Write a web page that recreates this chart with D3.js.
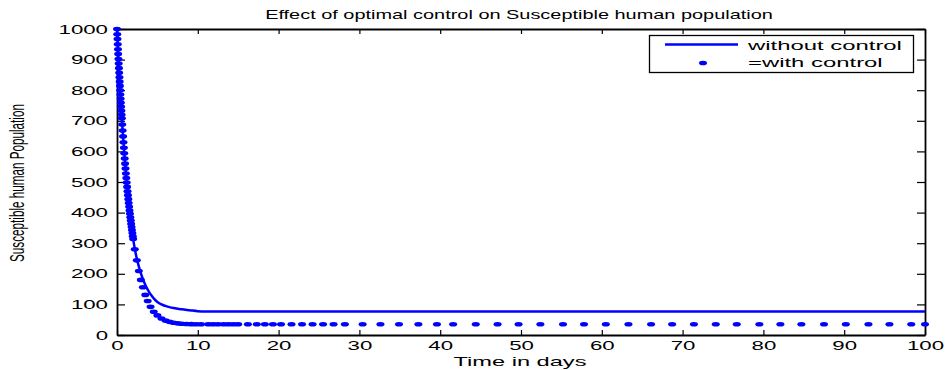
<!DOCTYPE html>
<html>
<head>
<meta charset="utf-8">
<script src="https://cdn.jsdelivr.net/npm/d3@7"></script>
<style>
  body { margin: 0; background: #fff; }
  svg { display: block; }
  text { font-family: "Liberation Sans", Arial, Helvetica, sans-serif; fill: #000; }
</style>
</head>
<body>
<svg id="chart" width="949" height="370"></svg>
<script>
// ---- data -------------------------------------------------------------
const chartTitle = "Effect of optimal control on Susceptible human population";
const xTitle = "Time in days";
const yTitle = "Susceptible human Population";
const seriesNames = ["without control", "=with control"];

const xTicks = [0, 10, 20, 30, 40, 50, 60, 70, 80, 90, 100];
const yTicks = [0, 100, 200, 300, 400, 500, 600, 700, 800, 900, 1000];

// susceptible humans, no control (solid line)
const timeWithout = [0, 0.1, 0.2, 0.3, 0.4, 0.5, 0.6, 0.7, 0.8, 0.9, 1.0, 1.1, 1.2, 1.3, 1.4, 1.5, 1.6, 1.7, 1.8, 1.9, 2.0,
  2.2, 2.4, 2.6, 2.8, 3.0, 3.2, 3.4, 3.6, 3.8, 4.0, 4.3, 4.6, 5.0, 5.5, 6.0, 6.5, 7.0, 8.0, 9.0, 10.0, 11, 20, 100];
const susceptibleWithout = [1000, 945, 892, 842, 795, 750, 708, 668, 630, 594, 560, 528, 498, 470, 444, 419, 396, 374, 353, 333, 314,
  282, 256, 234, 215, 198, 183, 170, 158, 148, 139, 128, 118, 108, 100, 95, 91, 88, 84, 81, 78, 77, 77, 77];

// susceptible humans, optimal control (solver steps, drawn as dots)
const timeWith = [0, 0.03, 0.06, 0.09, 0.12, 0.15, 0.18, 0.21, 0.24, 0.27, 0.30, 0.33, 0.36, 0.39, 0.42, 0.45, 0.48, 0.51, 0.54, 0.57, 0.60,
  0.65, 0.70, 0.75, 0.80, 0.85, 0.90, 0.95, 1.00, 1.05, 1.10, 1.15, 1.20, 1.25, 1.30, 1.35, 1.40, 1.45, 1.50, 1.55, 1.60, 1.65, 1.70, 1.75, 1.80, 1.85, 1.90, 1.95, 2.00,
  2.2, 2.45, 2.7, 2.95, 3.2, 3.5, 3.8, 4.15, 4.55, 5.0, 5.5, 6.0, 6.5, 7.0, 7.5, 8.0, 8.6, 9.2, 9.8, 10.4,
  11.3, 11.9, 12.5, 13.2, 13.8, 14.4, 15.0, 16.2, 17.3, 18.3, 19.3, 20.3, 21.6, 22.9, 24.2, 25.5, 26.8, 28.2, 30.4,
  32.6, 34.9, 37.3, 39.6, 41.6, 44.4, 47.1, 49.7, 52.4, 55.2, 57.8, 60.5, 63.3, 66.1, 68.7, 71.4, 74.1,
  76.7, 79.5, 82.1, 84.7, 87.5, 90.2, 93.0, 95.6, 98.3, 100];
const susceptibleWith = [1000, 983, 967, 950, 934, 918, 902, 887, 872, 857, 842, 828, 814, 800, 786, 772, 759, 746, 733, 720, 708,
  688, 668, 649, 630, 612, 594, 577, 560, 544, 528, 513, 498, 484, 470, 457, 444, 431, 419, 407, 396, 385, 374, 363, 353, 343, 333, 323, 314,
  280, 244, 209, 180, 156, 131, 111, 92, 76, 64, 54, 47, 43, 40, 38, 37, 36, 35.5, 35, 35,
  35, 35, 35, 35, 35, 35, 35, 35, 35, 35, 35, 35, 35, 35, 35, 35, 35, 35, 35,
  35, 35, 35, 35, 35, 35, 35, 35, 35, 35, 35, 35, 35, 35, 35, 35, 35,
  35, 35, 35, 35, 35, 35, 35, 35, 35, 35];

// ---- layout -----------------------------------------------------------
const plot = { left: 117, right: 925, top: 29, bottom: 335 };
const BLUE = "#0000ff";
const WIDE = 1.78;               // horizontal stretch of all lettering

const svg = d3.select("#chart");
const x = d3.scaleLinear().domain([0, 100]).range([plot.left, plot.right]);
const y = d3.scaleLinear().domain([0, 1000]).range([plot.bottom, plot.top]);

// widen a text element about its anchor point
function widen(sel, sx) {
  sel.each(function () {
    const t = d3.select(this);
    const tx = +t.attr("x") || 0, ty = +t.attr("y") || 0;
    t.attr("x", 0).attr("y", 0)
     .attr("transform", `translate(${tx},${ty}) scale(${sx},1)`);
  });
}
// widen so the text spans a given pixel width
function fitWidth(sel, width) {
  const len = sel.node().getComputedTextLength();
  widen(sel, width / len);
}

// ---- axes (MATLAB-style box with inward ticks) ----------------------------
const fmt = d3.format("d");
const gx = svg.append("g").attr("transform", `translate(0,${plot.bottom})`)
  .call(d3.axisBottom(x).tickValues(xTicks).tickFormat(fmt).tickSize(-5).tickSizeOuter(0).tickPadding(6.5));
const gy = svg.append("g").attr("transform", `translate(${plot.left},0)`)
  .call(d3.axisLeft(y).tickValues(yTicks).tickFormat(fmt).tickSize(-8).tickSizeOuter(0).tickPadding(9));
const gxt = svg.append("g").attr("transform", `translate(0,${plot.top})`)
  .call(d3.axisTop(x).tickValues(xTicks).tickSize(-5).tickSizeOuter(0).tickFormat(""));
const gyr = svg.append("g").attr("transform", `translate(${plot.right},0)`)
  .call(d3.axisRight(y).tickValues(yTicks).tickSize(-8).tickSizeOuter(0).tickFormat(""));

[gx, gy, gxt, gyr].forEach(g => {
  g.select(".domain").attr("stroke", "#000").attr("stroke-width", 1.8);
  g.selectAll(".tick line").attr("stroke", "#000").attr("stroke-width", 1.2);
  g.selectAll(".tick text").attr("font-size", 12.5).attr("font-family", null).attr("fill", "#000");
});
widen(gx.selectAll(".tick text"), WIDE);
widen(gy.selectAll(".tick text"), WIDE);

// ---- series -------------------------------------------------------------
const withoutPts = d3.range(timeWithout.length).map(i => [timeWithout[i], susceptibleWithout[i]]);
const withPts = d3.range(timeWith.length).map(i => [timeWith[i], susceptibleWith[i]]);

svg.append("path")
  .datum(withoutPts)
  .attr("fill", "none")
  .attr("stroke", BLUE)
  .attr("stroke-width", 2.5)
  .attr("stroke-linejoin", "round")
  .attr("d", d3.line().x(d => x(d[0])).y(d => y(d[1])).curve(d3.curveMonotoneX));

svg.append("g").selectAll("ellipse")
  .data(withPts)
  .join("ellipse")
  .attr("cx", d => x(d[0]))
  .attr("cy", d => y(d[1]))
  .attr("rx", 4)
  .attr("ry", 2.3)
  .attr("fill", BLUE);

// ---- titles -------------------------------------------------------------
const title = svg.append("text")
  .attr("x", 519).attr("y", 19)
  .attr("text-anchor", "middle").attr("font-size", 12)
  .text(chartTitle);
fitWidth(title, 508);

const xLab = svg.append("text")
  .attr("x", 520).attr("y", 366)
  .attr("text-anchor", "middle").attr("font-size", 13)
  .text(xTitle);
fitWidth(xLab, 133);

svg.append("text")
  .attr("transform", `translate(24,183) scale(${WIDE},1) rotate(-90)`)
  .attr("text-anchor", "middle").attr("font-size", 11.7)
  .text(yTitle);

// ---- legend -------------------------------------------------------------
const legend = svg.append("g");
legend.append("rect")
  .attr("x", 649.5).attr("y", 35.5).attr("width", 264).attr("height", 37)
  .attr("fill", "#fff").attr("stroke", "#000").attr("stroke-width", 1.3);
legend.append("line")
  .attr("x1", 665).attr("x2", 738).attr("y1", 44.5).attr("y2", 44.5)
  .attr("stroke", BLUE).attr("stroke-width", 2.5);
legend.append("ellipse")
  .attr("cx", 703).attr("cy", 63).attr("rx", 4).attr("ry", 2.3).attr("fill", BLUE);
const l1 = legend.append("text").attr("x", 748).attr("y", 50).attr("font-size", 13).text(seriesNames[0]);
const l2 = legend.append("text").attr("x", 748).attr("y", 66.5).attr("font-size", 13).text(seriesNames[1]);
const legendScale = 154 / l1.node().getComputedTextLength();
widen(l1, legendScale);
widen(l2, legendScale);
</script>
</body>
</html>
